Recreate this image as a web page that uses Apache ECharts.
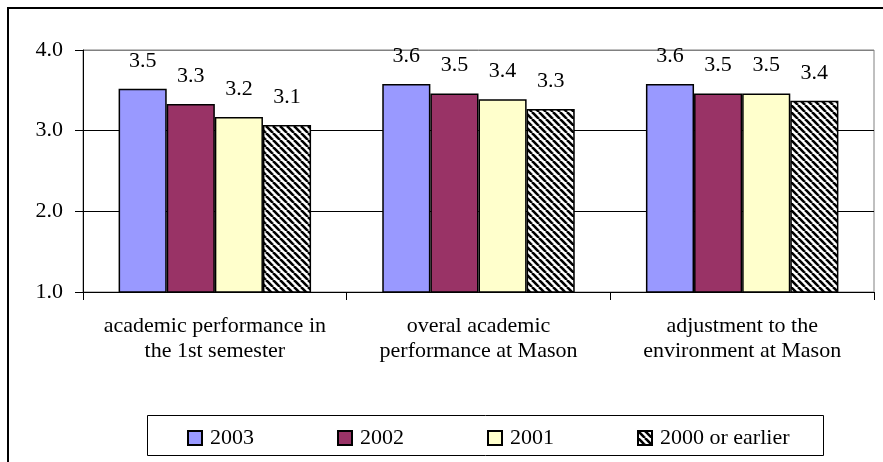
<!DOCTYPE html>
<html><head><meta charset="utf-8">
<script src="https://cdn.jsdelivr.net/npm/echarts@6/dist/echarts.min.js"></script>
<style>html,body{margin:0;padding:0;background:#fff}#c{width:883px;height:462px}</style>
</head><body><div id="c"></div>
<script>
const categories = ['academic performance in\nthe 1st semester', 'overal academic\nperformance at Mason', 'adjustment to the\nenvironment at Mason'];
const seriesNames = ['2003', '2002', '2001', '2000 or earlier'];
const v2003 = [3.52, 3.58, 3.58];
const v2002 = [3.33, 3.46, 3.46];
const v2001 = [3.17, 3.39, 3.46];
const v2000 = [3.07, 3.27, 3.37];
const yTicks = [1, 2, 3, 4];

const FONT = '"Liberation Serif", "Times New Roman", serif';
function hatch() {
  const s = 7, c = document.createElement('canvas');
  c.width = s; c.height = s;
  const g = c.getContext('2d');
  g.fillStyle = '#fff'; g.fillRect(0, 0, s, s);
  g.strokeStyle = '#000'; g.lineWidth = 2.6;
  for (const x0 of [-s, 0, s]) { g.beginPath(); g.moveTo(x0, 0); g.lineTo(x0 + s, s); g.stroke(); }
  return c;
}
const fills = ['#9999FF', '#993366', '#FFFFCC', { image: hatch(), repeat: 'repeat' }];
const values = [v2003, v2002, v2001, v2000];

const chart = echarts.init(document.getElementById('c'), null, { renderer: 'canvas' });
chart.setOption({
  animation: false,
  backgroundColor: '#fff',
  grid: { left: 83, right: 9, top: 50, bottom: 170, show: true, borderColor: '#808080', borderWidth: 1 },
  xAxis: {
    type: 'category', data: categories,
    axisLine: { lineStyle: { color: '#000', width: 1 } },
    axisTick: { show: true, length: 8, lineStyle: { color: '#000' } },
    axisLabel: { color: '#000', fontFamily: FONT, fontSize: 22, lineHeight: 25, margin: 22, interval: 0 }
  },
  yAxis: {
    type: 'value', min: yTicks[0], max: yTicks[yTicks.length - 1], interval: 1,
    axisLine: { show: true, lineStyle: { color: '#000', width: 1 } },
    axisTick: { show: true, length: 8, inside: false, lineStyle: { color: '#000' } },
    axisLabel: { color: '#000', fontFamily: FONT, fontSize: 22, margin: 20, formatter: v => v.toFixed(1) },
    splitLine: { show: true, lineStyle: { color: ['#000', '#000', '#000', '#808080'], width: 1 } }
  },
  legend: {
    data: seriesNames, left: 182, top: 422, icon: 'rect', itemWidth: 14, itemHeight: 14, itemGap: 83,
    textStyle: { color: '#000', fontFamily: FONT, fontSize: 22, padding: [0, 0, 0, 3] }
  },
  graphic: [
    { type: 'rect', shape: { x: 8, y: 8, width: 1000, height: 1000 }, style: { fill: 'none', stroke: '#000', lineWidth: 2 }, silent: true },
    { type: 'rect', shape: { x: 147.5, y: 415.5, width: 676, height: 40 }, style: { fill: 'none', stroke: '#000', lineWidth: 1 }, silent: true }
  ],
  series: seriesNames.map((n, i) => ({
    name: n, type: 'bar', data: values[i],
    barGap: '0%', barCategoryGap: '27%',
    itemStyle: { color: fills[i], borderColor: '#000', borderWidth: 1.5 },
    label: { show: true, position: 'top', distance: 17, color: '#000', fontFamily: FONT, fontSize: 22, formatter: p => p.value.toFixed(1) }
  }))
});
</script></body></html>
